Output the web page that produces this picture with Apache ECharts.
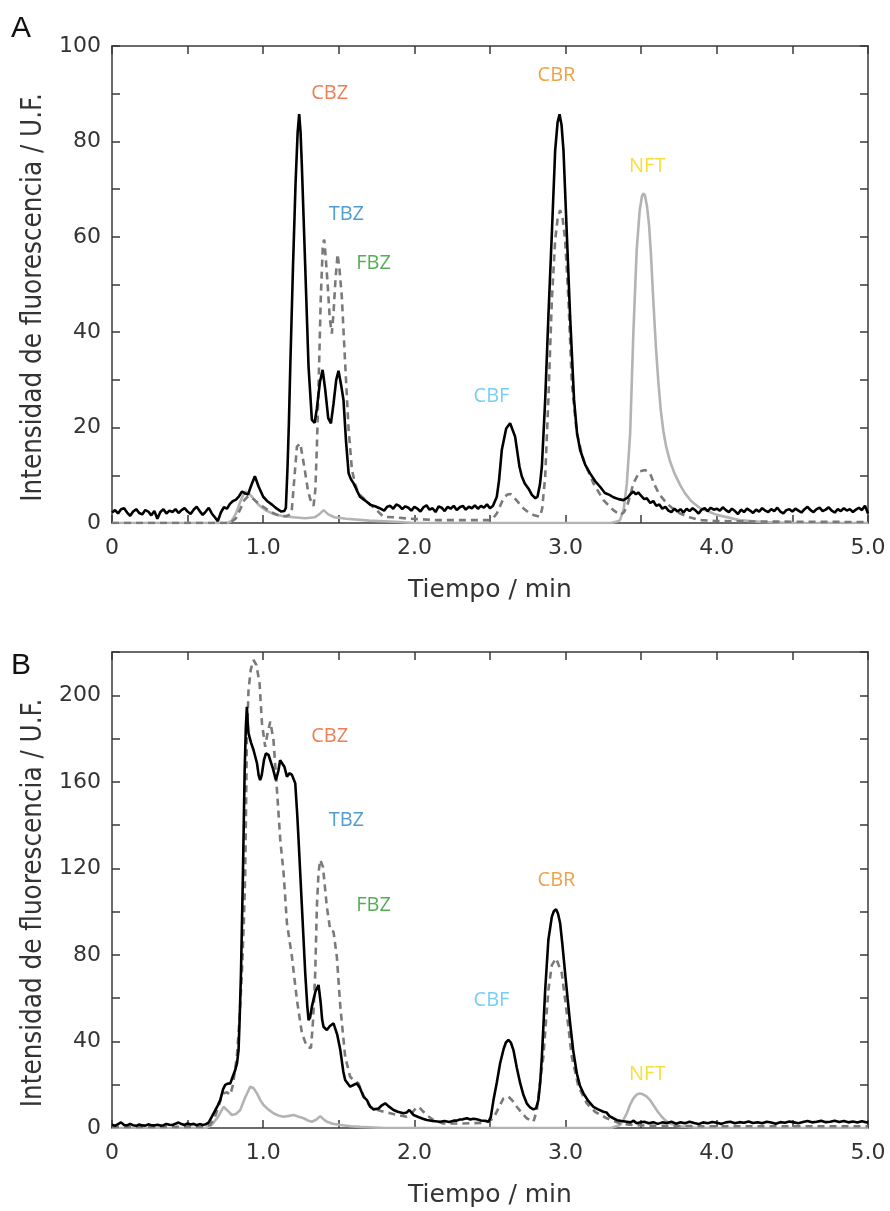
<!DOCTYPE html>
<html>
<head>
<meta charset="utf-8">
<script src="https://cdn.jsdelivr.net/npm/echarts@6/dist/echarts.min.js"></script>
<style>html,body{margin:0;padding:0;background:#fff}#c{width:890px;height:1211px}</style>
</head>
<body>
<div id="c"></div>
<script>
// ---------- DATA ----------
const xTicksLabelled = [0, 1, 2, 3, 4, 5];
const topYLabelStep = 20;
const botYLabelStep = 40;

// Panel A (top) – [time(min), intensity]
const topBlack = [[0,2.2],[0.02,2.7],[0.04,2.0],[0.06,2.9],[0.08,3.1],[0.10,2.2],[0.12,1.5],[0.14,2.4],[0.16,2.9],[0.18,2.1],[0.20,1.8],[0.22,2.7],[0.24,2.4],[0.26,1.6],[0.28,2.5],[0.30,0.9],[0.32,2.3],[0.34,2.9],[0.36,2.0],[0.38,2.6],[0.40,2.3],[0.42,2.9],[0.44,2.1],[0.46,2.7],[0.48,3.1],[0.50,2.4],[0.52,1.9],[0.54,2.8],[0.56,3.4],[0.58,2.5],[0.60,1.7],[0.62,2.4],[0.64,3.2],[0.66,2.0],[0.68,1.2],[0.70,0.4],[0.72,2.2],[0.74,3.3],[0.76,3.0],[0.78,4.0],[0.80,4.6],[0.82,4.9],[0.84,5.6],[0.86,6.6],[0.88,6.2],[0.90,6.0],[0.92,7.8],[0.945,9.8],[0.97,7.6],[1.00,5.5],[1.03,4.5],[1.06,3.8],[1.09,3.0],[1.12,2.4],[1.14,2.5],[1.15,3.2],[1.161,11.8],[1.17,21],[1.179,32.7],[1.197,53.7],[1.214,71.2],[1.228,82],[1.238,85.7],[1.247,82],[1.256,74.6],[1.278,53.7],[1.30,32.7],[1.322,21.6],[1.34,21],[1.355,24],[1.375,29.5],[1.393,32.1],[1.41,28],[1.43,22],[1.448,20.9],[1.465,25],[1.483,30],[1.498,31.9],[1.515,29],[1.531,25.8],[1.548,17],[1.565,10.4],[1.58,9.2],[1.598,8.3],[1.62,6.8],[1.64,5.5],[1.67,4.8],[1.71,3.8],[1.74,3.5],[1.77,3.1],[1.80,2.6],[1.82,3.4],[1.84,3.6],[1.86,3.0],[1.88,3.9],[1.90,3.6],[1.92,2.9],[1.94,3.5],[1.96,3.2],[1.98,2.6],[2.00,3.4],[2.02,3.0],[2.04,2.4],[2.06,3.3],[2.08,3.7],[2.10,2.8],[2.12,3.1],[2.14,2.3],[2.16,3.5],[2.18,3.2],[2.20,2.5],[2.22,3.4],[2.24,3.0],[2.26,3.6],[2.28,2.7],[2.30,3.3],[2.32,3.6],[2.34,2.8],[2.36,3.4],[2.38,3.1],[2.40,3.7],[2.42,3.0],[2.44,3.6],[2.46,3.2],[2.48,3.9],[2.50,3.1],[2.52,3.6],[2.545,5.5],[2.56,9],[2.578,15.3],[2.607,19.8],[2.633,20.9],[2.666,18.1],[2.695,11.8],[2.71,9.8],[2.73,8.3],[2.755,7.2],[2.777,5.9],[2.80,5.2],[2.814,5.5],[2.83,8],[2.843,11.8],[2.865,25.8],[2.886,43.2],[2.909,60.7],[2.931,78.1],[2.947,84],[2.96,85.7],[2.973,83.5],[2.986,78.1],[3.008,60.7],[3.03,43.2],[3.056,25.8],[3.075,19],[3.096,15.3],[3.13,12.2],[3.162,10.4],[3.195,8.8],[3.228,7.6],[3.26,6.3],[3.29,5.9],[3.316,5.4],[3.35,5.0],[3.382,4.8],[3.41,5.3],[3.43,6.1],[3.448,6.6],[3.465,6.0],[3.48,6.4],[3.50,5.7],[3.52,5.0],[3.537,5.2],[3.56,4.2],[3.58,4.6],[3.60,3.6],[3.62,3.9],[3.64,3.0],[3.66,3.4],[3.68,2.6],[3.70,2.3],[3.72,3.0],[3.74,2.4],[3.76,2.9],[3.78,2.2],[3.80,3.0],[3.82,2.5],[3.84,3.1],[3.86,2.6],[3.88,2.0],[3.90,2.8],[3.92,3.1],[3.94,2.5],[3.96,3.2],[3.98,2.8],[4.00,3.0],[4.02,2.6],[4.04,3.3],[4.06,2.7],[4.08,2.3],[4.10,3.0],[4.12,2.5],[4.14,1.9],[4.16,2.8],[4.18,2.3],[4.20,3.0],[4.22,2.6],[4.24,2.1],[4.26,2.8],[4.28,2.4],[4.30,3.1],[4.32,2.6],[4.34,2.3],[4.36,2.9],[4.38,2.5],[4.40,3.2],[4.42,2.4],[4.44,2.0],[4.46,2.7],[4.48,2.9],[4.50,2.4],[4.52,3.0],[4.54,2.6],[4.56,2.2],[4.58,2.9],[4.60,3.4],[4.62,2.7],[4.64,2.3],[4.66,2.9],[4.68,3.2],[4.70,2.5],[4.72,2.8],[4.74,3.3],[4.76,2.6],[4.78,2.2],[4.80,2.9],[4.82,2.5],[4.84,3.1],[4.86,2.6],[4.88,2.9],[4.90,2.3],[4.92,2.8],[4.94,3.2],[4.96,2.7],[4.98,3.6],[5.00,2.0]];

const topDashed = [[0,0],[0.78,0],[0.82,1],[0.85,3],[0.875,4.8],[0.90,5.6],[0.925,5.3],[0.95,4.6],[1.0,3.4],[1.05,2.3],[1.10,1.6],[1.15,1.4],[1.18,1.8],[1.19,3],[1.205,9],[1.223,16.0],[1.245,16.7],[1.26,14],[1.278,10.5],[1.295,7],[1.311,5],[1.333,3.6],[1.345,7],[1.355,16],[1.37,33.5],[1.381,47.4],[1.395,58.6],[1.404,59.4],[1.415,55],[1.426,50.2],[1.44,43],[1.454,39.7],[1.465,44],[1.478,51],[1.492,56.4],[1.505,53],[1.52,47.4],[1.542,33.5],[1.565,19.5],[1.587,11.1],[1.61,8],[1.63,6.2],[1.686,4.5],[1.75,2.7],[1.796,1.3],[1.86,1.2],[1.97,0.9],[2.15,0.6],[2.33,0.6],[2.50,0.6],[2.52,1],[2.545,2.0],[2.58,4.5],[2.611,5.9],[2.635,6.1],[2.655,5.5],[2.69,4.2],[2.72,3.1],[2.755,2.2],[2.787,1.7],[2.83,1.3],[2.845,3],[2.865,9.7],[2.886,25.8],[2.909,46.7],[2.931,59.3],[2.948,64],[2.964,65.6],[2.98,64],[2.997,59.3],[3.019,46.7],[3.041,29.3],[3.074,18.8],[3.118,13.2],[3.184,8.3],[3.25,4.8],[3.316,2.7],[3.36,1.7],[3.385,2.2],[3.405,3.4],[3.425,5.5],[3.448,8.3],[3.49,10.8],[3.526,11.1],[3.558,10.4],[3.59,7.9],[3.62,6.0],[3.67,4.1],[3.71,3.0],[3.757,2.0],[3.82,1.2],[3.89,0.6],[4.0,0.4],[4.3,0.3],[5.0,0.2]];

const topLight = [[0,0],[0.76,0],[0.79,0.4],[0.82,2],[0.85,4.6],[0.88,6.6],[0.905,6.2],[0.93,5.3],[0.97,3.8],[1.02,2.6],[1.07,1.9],[1.12,1.5],[1.2,1.2],[1.28,1.0],[1.34,1.2],[1.37,1.8],[1.40,2.7],[1.43,1.8],[1.47,1.2],[1.55,0.9],[1.7,0.5],[1.9,0.2],[2.0,0],[3.30,0],[3.34,0.3],[3.36,0.6],[3.385,3],[3.405,8.3],[3.427,18.8],[3.448,39.7],[3.47,57.2],[3.49,65.5],[3.505,68.5],[3.515,69.1],[3.525,68.6],[3.538,66.5],[3.552,62.5],[3.565,56],[3.58,46.7],[3.597,37],[3.614,29.3],[3.63,23.5],[3.647,19.2],[3.665,16],[3.69,13.0],[3.72,10.4],[3.757,8.0],[3.79,6.2],[3.83,4.6],[3.89,3.1],[4.0,1.7],[4.15,0.6],[4.3,0.2],[4.5,0],[5,0]];

// Panel B (bottom)
const botBlack = [[0,1.5],[0.02,1.0],[0.04,1.8],[0.06,2.6],[0.08,1.4],[0.10,1.2],[0.12,1.9],[0.14,1.3],[0.16,1.0],[0.18,1.6],[0.20,1.2],[0.22,1.1],[0.24,1.7],[0.26,1.3],[0.28,1.2],[0.30,1.5],[0.32,1.1],[0.34,1.3],[0.36,1.9],[0.38,1.5],[0.40,1.4],[0.42,2.0],[0.44,2.5],[0.46,1.8],[0.48,1.4],[0.50,2.1],[0.52,1.6],[0.54,1.9],[0.56,1.3],[0.58,1.8],[0.60,1.4],[0.62,1.7],[0.64,2.6],[0.672,6.8],[0.70,10.5],[0.716,12.9],[0.735,18],[0.749,19.9],[0.765,20.5],[0.782,20.6],[0.80,24],[0.815,26.8],[0.827,30],[0.837,36],[0.845,52],[0.853,71.5],[0.866,117.7],[0.877,163.9],[0.885,185],[0.892,194.7],[0.897,188],[0.903,182.4],[0.92,178],[0.936,174.7],[0.959,168.6],[0.97,163],[0.98,160.8],[0.99,163],[1.005,170],[1.018,173.2],[1.035,172.5],[1.047,171.6],[1.065,166],[1.084,160.8],[1.10,165],[1.112,170],[1.124,170.9],[1.14,167],[1.157,162.4],[1.175,164],[1.19,163.2],[1.212,159.3],[1.225,145],[1.234,133.1],[1.256,102.3],[1.278,71.5],[1.292,56],[1.30,49.9],[1.31,51],[1.322,56.1],[1.345,63],[1.366,66.1],[1.38,58],[1.39,50],[1.399,46.8],[1.421,45.3],[1.44,47],[1.465,48.4],[1.49,43],[1.51,36],[1.53,26],[1.542,22.2],[1.575,19.1],[1.60,20],[1.62,20.6],[1.64,18.5],[1.663,14.5],[1.686,12.9],[1.708,9.8],[1.73,8.6],[1.763,9],[1.785,10.5],[1.807,11.4],[1.83,10],[1.862,8.3],[1.89,7.5],[1.928,6.8],[1.95,7.2],[1.966,8.3],[1.98,7.2],[1.994,6],[2.03,5],[2.06,4.2],[2.083,3.7],[2.12,3.2],[2.17,2.9],[2.20,3.2],[2.23,2.8],[2.26,3.4],[2.28,3.4],[2.30,3.9],[2.32,4.0],[2.347,4.5],[2.37,3.9],[2.39,4.3],[2.413,4.0],[2.44,3.5],[2.47,3.3],[2.49,2.9],[2.505,5],[2.523,12.9],[2.545,21],[2.567,29.9],[2.59,36.5],[2.605,39.5],[2.622,40.7],[2.638,39.5],[2.655,36],[2.677,28],[2.70,20.6],[2.72,15.5],[2.743,11.4],[2.765,9.5],[2.787,8.6],[2.805,9.2],[2.82,12.9],[2.832,21],[2.843,32.9],[2.865,63.8],[2.886,86.9],[2.909,97.7],[2.923,100.3],[2.937,101.1],[2.95,99],[2.964,94.6],[2.98,84],[2.997,71.5],[3.013,60],[3.03,48.4],[3.05,36],[3.074,25.3],[3.095,19.5],[3.118,16.0],[3.15,12.5],[3.184,9.8],[3.215,8.6],[3.25,7.5],[3.27,7.2],[3.29,5.5],[3.316,4.5],[3.34,3.6],[3.37,3.2],[3.405,2.9],[3.43,2.6],[3.45,3.4],[3.47,2.2],[3.49,2.5],[3.52,2.9],[3.55,2.2],[3.58,2.7],[3.61,1.9],[3.64,2.6],[3.67,2.3],[3.70,2.9],[3.73,2.0],[3.76,2.6],[3.79,2.2],[3.82,2.9],[3.85,2.3],[3.88,1.8],[3.91,2.6],[3.94,2.2],[3.97,2.8],[4.00,2.4],[4.03,1.9],[4.06,2.6],[4.09,2.9],[4.12,2.2],[4.15,2.7],[4.18,2.4],[4.21,3.0],[4.24,2.3],[4.27,2.7],[4.30,2.2],[4.33,2.9],[4.36,2.5],[4.39,2.0],[4.42,2.7],[4.45,2.4],[4.48,3.0],[4.51,2.6],[4.54,2.2],[4.57,2.8],[4.60,3.2],[4.63,2.6],[4.66,2.9],[4.69,3.3],[4.72,2.7],[4.75,2.9],[4.78,3.4],[4.81,2.8],[4.84,3.2],[4.87,2.6],[4.90,3.0],[4.93,2.5],[4.96,3.1],[5.00,2.4]];

const botDashed = [[0,0.5],[0.6,0.5],[0.65,1.5],[0.68,5],[0.70,9],[0.72,13.5],[0.738,16],[0.76,16.5],[0.782,15.3],[0.80,20],[0.826,33],[0.843,50],[0.859,71.5],[0.872,95],[0.881,117.7],[0.887,150],[0.892,179.3],[0.903,202.4],[0.918,212],[0.936,216.3],[0.955,214],[0.976,205.5],[0.992,187],[1.013,176.2],[1.03,183],[1.047,187.8],[1.068,179.3],[1.091,156.2],[1.113,133.1],[1.135,117.7],[1.157,94.6],[1.19,79.2],[1.223,59.2],[1.256,43.8],[1.289,37.6],[1.316,37],[1.33,50],[1.344,71.5],[1.355,102.3],[1.366,118],[1.377,123.9],[1.385,124.5],[1.395,120.8],[1.421,102.3],[1.443,91.5],[1.465,90.7],[1.487,79.2],[1.51,56.1],[1.542,33],[1.575,23.7],[1.60,22],[1.63,20.6],[1.67,14],[1.708,9.8],[1.75,8.5],[1.796,7.5],[1.84,6.8],[1.884,6.0],[1.95,5.2],[1.985,7],[2.016,9.8],[2.04,9],[2.06,7.5],[2.09,5.5],[2.126,3.7],[2.19,2.1],[2.325,2.1],[2.457,2.4],[2.49,3],[2.523,4.5],[2.555,9],[2.589,13.7],[2.622,14.5],[2.65,12.5],[2.677,9.8],[2.71,7],[2.743,4.5],[2.787,2.9],[2.81,8],[2.83,20.6],[2.853,33],[2.886,63.8],[2.909,75.3],[2.937,78.4],[2.975,71.5],[3.008,53],[3.041,33],[3.085,19.1],[3.14,11.4],[3.195,7.5],[3.272,4.5],[3.36,2.1],[3.45,1.3],[3.6,1.0],[4.0,0.8],[4.5,0.8],[5.0,0.8]];

const botLight = [[0,0],[0.62,0],[0.66,1.5],[0.70,5],[0.738,9.8],[0.765,8],[0.793,6.0],[0.82,6.5],[0.848,8.3],[0.88,14],[0.914,19.1],[0.935,18.5],[0.959,16],[0.98,13],[1.002,10.6],[1.035,8.5],[1.068,6.8],[1.10,5.8],[1.135,5.2],[1.17,5.6],[1.2,6],[1.235,5.2],[1.267,4.5],[1.295,3.5],[1.322,2.9],[1.35,3.8],[1.377,5.5],[1.40,4],[1.421,2.9],[1.46,2],[1.51,1.4],[1.58,0.8],[1.64,0.5],[1.8,0],[3.30,0],[3.36,1.4],[3.38,3.5],[3.405,6.8],[3.425,10.5],[3.448,13.7],[3.47,15.4],[3.49,16],[3.51,15.6],[3.537,14.5],[3.56,12.8],[3.58,10.6],[3.61,7.5],[3.636,5.2],[3.66,3.5],[3.69,2.1],[3.75,0.8],[3.85,0.2],[4.0,0],[5.0,0]];

// Peak annotations
const peakNames  = ['CBZ','TBZ','FBZ','CBF','CBR','NFT'];
const peakColors = ['#E85E2A','#2783C9','#2A9A2A','#55C2F0','#EB8A1A','#F8D40A'];
const topPeakX = [1.44, 1.55, 1.73, 2.51, 2.94, 3.54];
const topPeakY = [90, 64.7, 54.5, 26.5, 93.9, 74.8];
const botPeakX = [1.44, 1.55, 1.73, 2.51, 2.94, 3.54];
const botPeakY = [181, 142, 102.7, 58.8, 114.3, 25];

// ---------- CHART ----------
const chart = echarts.init(document.getElementById('c'), null, {renderer:'canvas'});
const axisColor = '#3a3a3a';
const labelColor = '#333';
const wideFont = 'DejaVu Sans, Liberation Sans, sans-serif';
const narrowFont = 'DejaVu Sans Condensed, Liberation Sans, sans-serif';

function xAx(gridIndex, isMirror) {
  return {
    type:'value', gridIndex, min:0, max:5, interval:0.5,
    position: isMirror ? 'top' : 'bottom',
    name: isMirror ? '' : 'Tiempo / min',
    nameLocation:'middle', nameGap:55,
    nameTextStyle:{fontFamily:wideFont, fontSize:25, color:labelColor},
    axisLine:{show:true, onZero:false, lineStyle:{color:axisColor, width:1.5}},
    axisTick:{show:true, inside:true, length:8, lineStyle:{color:axisColor, width:1.5}},
    splitLine:{show:false},
    axisLabel:{show:!isMirror, margin:14, fontFamily:wideFont, fontSize:22, color:labelColor,
      showMinLabel:true, showMaxLabel:true,
      formatter:(v)=>{
        const r = Math.round(v);
        if (Math.abs(v-r) > 1e-6 || xTicksLabelled.indexOf(r) < 0) return '';
        return r === 0 ? '0' : r.toFixed(1);
      }}
  };
}
function yAx(gridIndex, max, interval, step, isMirror) {
  return {
    type:'value', gridIndex, min:0, max, interval,
    position: isMirror ? 'right' : 'left',
    name: isMirror ? '' : 'Intensidad de fluorescencia / U.F.',
    nameLocation:'middle', nameGap:64, nameRotate:90,
    nameTextStyle:{fontFamily:narrowFont, fontSize:27.5, color:labelColor, padding:[0,26,0,0]},
    axisLine:{show:true, onZero:false, lineStyle:{color:axisColor, width:1.5}},
    axisTick:{show:true, inside:true, length:8, lineStyle:{color:axisColor, width:1.5}},
    splitLine:{show:false},
    axisLabel:{show:!isMirror, margin:11, fontFamily:wideFont, fontSize:22, color:labelColor,
      showMinLabel:true, showMaxLabel:true,
      formatter:(v)=> (Math.abs(v % step) < 1e-6 ? String(v) : '')}
  };
}

function lineSeries(data, xi, yi, kind) {
  const styles = {
    black:{color:'#000', width:2.6, type:'solid'},
    dashed:{color:'#7a7a7a', width:2.6, type:[7,5]},
    light:{color:'#b3b3b3', width:2.6, type:'solid'}
  };
  return {
    type:'line', xAxisIndex:xi, yAxisIndex:yi, data, showSymbol:false, symbol:'none',
    smooth:false, lineStyle:styles[kind], z: kind==='black'?5:(kind==='dashed'?4:3),
    animation:false, silent:true, clip:true
  };
}
function labelSeries(xs, ys, xi, yi) {
  return {
    type:'scatter', xAxisIndex:xi, yAxisIndex:yi, symbolSize:0, animation:false, silent:true, z:10,
    data: peakNames.map((n,i)=>({value:[xs[i], ys[i]], name:n,
      label:{show:true, position:'inside', formatter:n, color:peakColors[i],
             fontFamily:'Open Sans, Noto Sans, sans-serif', fontSize:20}}))
  };
}

chart.setOption({
  backgroundColor:'#fff',
  animation:false,
  grid:[
    {left:112, right:22, top:46, height:477},
    {left:112, right:22, top:652, height:476}
  ],
  xAxis:[xAx(0,false), xAx(0,true), xAx(1,false), xAx(1,true)],
  yAxis:[yAx(0,100,10,topYLabelStep,false), yAx(0,100,10,topYLabelStep,true),
         yAx(1,220,20,botYLabelStep,false), yAx(1,220,20,botYLabelStep,true)],
  graphic:[
    {type:'text', left:11, top:14, style:{text:'A', font:'30px Liberation Sans, Arial, sans-serif', fill:'#111'}},
    {type:'text', left:11, top:651, style:{text:'B', font:'30px Liberation Sans, Arial, sans-serif', fill:'#111'}}
  ],
  series:[
    lineSeries(topLight,0,0,'light'),
    lineSeries(topDashed,0,0,'dashed'),
    lineSeries(topBlack,0,0,'black'),
    labelSeries(topPeakX, topPeakY, 0, 0),
    lineSeries(botLight,2,2,'light'),
    lineSeries(botDashed,2,2,'dashed'),
    lineSeries(botBlack,2,2,'black'),
    labelSeries(botPeakX, botPeakY, 2, 2)
  ]
});
</script>
</body>
</html>
